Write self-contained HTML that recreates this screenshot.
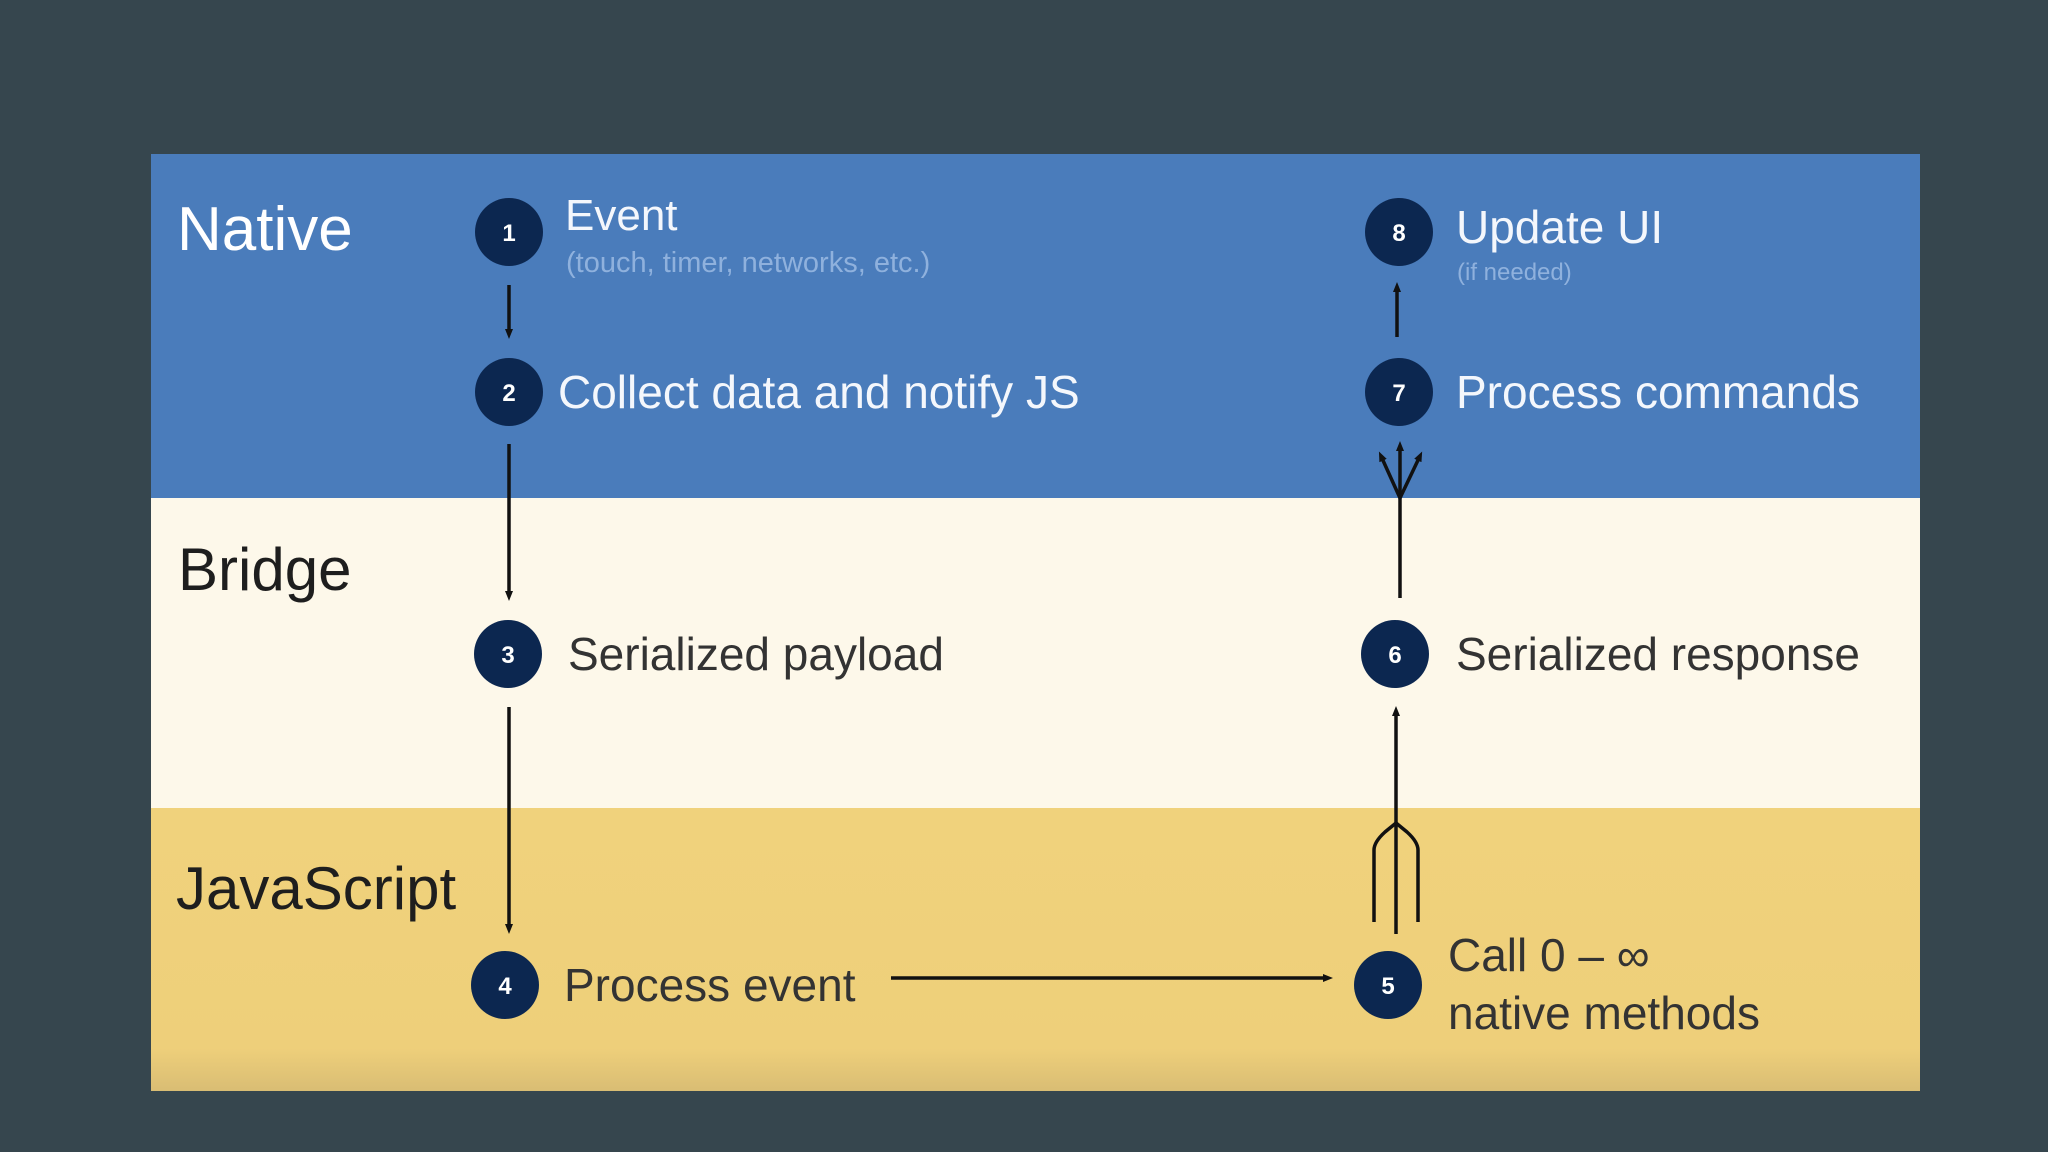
<!DOCTYPE html>
<html><head><meta charset="utf-8"><style>
body{margin:0;width:2048px;height:1152px;background:#36464e;overflow:hidden;font-family:"Liberation Sans",sans-serif}
</style></head><body>
<svg width="2048" height="1152" viewBox="0 0 2048 1152" style="position:absolute;left:0;top:0">
<defs>
<linearGradient id="js" x1="0" y1="0" x2="0" y2="1">
<stop offset="0" stop-color="#f0d27c"/><stop offset="0.85" stop-color="#eecf7a"/><stop offset="1" stop-color="#d9bd74"/>
</linearGradient>
<marker id="ah" markerWidth="10" markerHeight="10" refX="5" refY="5" orient="auto" markerUnits="userSpaceOnUse" viewBox="0 0 10 10">
<path d="M0,1 L10,5 L0,9 z" fill="#111"/></marker>
</defs>
<rect x="151" y="154" width="1769" height="344" fill="#4a7cbb"/>
<rect x="151" y="498" width="1769" height="310" fill="#fdf8ea"/>
<rect x="151" y="808" width="1769" height="283" fill="url(#js)"/>

<g font-family="Liberation Sans, sans-serif">
<text x="177" y="250" font-size="62" fill="#fff">Native</text>
<text x="178" y="590" font-size="60" fill="#1e1e1e">Bridge</text>
<text x="176" y="909" font-size="60" fill="#1e1e1e">JavaScript</text>
</g>

<g fill="#0c2750">
<circle cx="509" cy="232" r="34"/><circle cx="509" cy="392" r="34"/>
<circle cx="508" cy="654" r="34"/><circle cx="505" cy="985" r="34"/>
<circle cx="1388" cy="985" r="34"/><circle cx="1395" cy="654" r="34"/>
<circle cx="1399" cy="392" r="34"/><circle cx="1399" cy="232" r="34"/>
</g>
<g fill="#fff" font-size="24" font-weight="bold" text-anchor="middle">
<text x="509" y="241">1</text><text x="509" y="401">2</text>
<text x="508" y="663">3</text><text x="505" y="994">4</text>
<text x="1388" y="994">5</text><text x="1395" y="663">6</text>
<text x="1399" y="401">7</text><text x="1399" y="241">8</text>
</g>

<g font-size="46">
<text x="565" y="230" fill="#f4f7fc" font-size="44">Event</text>
<text x="566" y="272" fill="#8fb1dd" font-size="29">(touch, timer, networks, etc.)</text>
<text x="558" y="408" fill="#f4f7fc">Collect data and notify JS</text>
<text x="568" y="670" fill="#333">Serialized payload</text>
<text x="564" y="1001" fill="#333">Process event</text>
<text x="1448" y="971" fill="#333">Call 0 – ∞</text>
<text x="1448" y="1029" fill="#333">native methods</text>
<text x="1456" y="670" fill="#333">Serialized response</text>
<text x="1456" y="408" fill="#f4f7fc">Process commands</text>
<text x="1456" y="243" fill="#f4f7fc">Update UI</text>
<text x="1457" y="280" fill="#8fb1dd" font-size="24">(if needed)</text>
</g>

<g stroke="#111" stroke-width="3.5" fill="none">
<line x1="509" y1="285" x2="509" y2="334" marker-end="url(#ah)"/>
<line x1="509" y1="444" x2="509" y2="596" marker-end="url(#ah)"/>
<line x1="509" y1="707" x2="509" y2="929" marker-end="url(#ah)"/>
<line x1="891" y1="978" x2="1328" y2="978" marker-end="url(#ah)"/>
<line x1="1396" y1="934" x2="1396" y2="711" marker-end="url(#ah)"/>
<path d="M1374,922 L1374,850 Q1374,842 1385,832 L1396,823 L1407,832 Q1418,842 1418,850 L1418,922"/>
<line x1="1400" y1="598" x2="1400" y2="446" marker-end="url(#ah)"/>
<line x1="1400" y1="498" x2="1381" y2="456" marker-end="url(#ah)"/>
<line x1="1400" y1="498" x2="1420" y2="456" marker-end="url(#ah)"/>
<line x1="1397" y1="337" x2="1397" y2="287" marker-end="url(#ah)"/>
</g>
</svg>
</body></html>
